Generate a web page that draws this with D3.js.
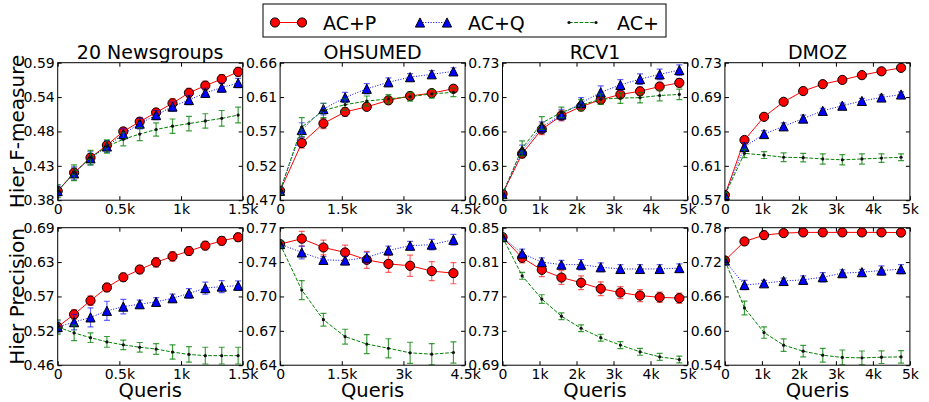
<!DOCTYPE html>
<html>
<head>
<meta charset="utf-8">
<script src="https://cdn.jsdelivr.net/npm/d3@7"></script>
<style>
body { margin: 0; background: #fff; }
svg { font-family: "DejaVu Sans", sans-serif; }
</style>
</head>
<body>
<svg id="chart" width="929" height="402"></svg>
<script>
// ---- data ----
var datasetNames = ["20 Newsgroups", "OHSUMED", "RCV1", "DMOZ"];
var seriesNames = ["AC+P", "AC+Q", "AC+"];
var rowLabels = ["Hier F-measure", "Hier Precision"];

var queries20ng = [0, 133, 266, 399, 532, 665, 798, 931, 1064, 1197, 1330, 1463];
var queriesOhsumed = [0, 527, 1054, 1581, 2108, 2635, 3162, 3689, 4216];
var queriesRcv1 = [0, 531, 1062, 1593, 2124, 2655, 3186, 3717, 4248, 4779];
var queriesDmoz = [0, 529, 1058, 1587, 2116, 2645, 3174, 3703, 4232, 4761];

var xTicks20ng = [0, 500, 1000, 1500];
var xLabels20ng = ["0", "0.5k", "1k", "1.5k"];
var xTicksOhsumed = [0, 1500, 3000, 4500];
var xLabelsOhsumed = ["0", "1.5k", "3k", "4.5k"];
var xTicks5k = [0, 1000, 2000, 3000, 4000, 5000];
var xLabels5k = ["0", "1k", "2k", "3k", "4k", "5k"];

var fTickLabels = [
	["0.38", "0.43", "0.48", "0.54", "0.59"],
	["0.47", "0.52", "0.57", "0.61", "0.66"],
	["0.60", "0.63", "0.66", "0.70", "0.73"],
	["0.57", "0.61", "0.65", "0.69", "0.73"]
];
var pTickLabels = [
	["0.46", "0.52", "0.57", "0.63", "0.69"],
	["0.64", "0.67", "0.70", "0.74", "0.77"],
	["0.69", "0.73", "0.77", "0.81", "0.85"],
	["0.54", "0.60", "0.66", "0.72", "0.78"]
];

// [AC+P, AC+Q, AC+]
var fmeasure20ng = [
	[0.394, 0.422, 0.445, 0.464, 0.485, 0.500, 0.514, 0.528, 0.544, 0.555, 0.565, 0.576],
	[0.394, 0.421, 0.444, 0.462, 0.481, 0.497, 0.510, 0.523, 0.533, 0.544, 0.552, 0.559],
	[0.394, 0.422, 0.445, 0.462, 0.473, 0.481, 0.488, 0.493, 0.497, 0.501, 0.505, 0.510]
];
var fmeasureErr20ng = [
	[0.006, 0.007, 0.006, 0.006, 0.006, 0.006, 0.006, 0.007, 0.007, 0.007, 0.007, 0.007],
	[0.008, 0.010, 0.010, 0.009, 0.008, 0.008, 0.007, 0.007, 0.007, 0.007, 0.007, 0.007],
	[0.010, 0.012, 0.011, 0.010, 0.010, 0.010, 0.010, 0.011, 0.011, 0.011, 0.012, 0.012]
];
var fmeasureOhsumed = [
	[0.483, 0.549, 0.576, 0.592, 0.599, 0.608, 0.614, 0.618, 0.624],
	[0.483, 0.567, 0.596, 0.612, 0.624, 0.633, 0.640, 0.644, 0.648],
	[0.483, 0.571, 0.594, 0.602, 0.607, 0.610, 0.613, 0.617, 0.619]
];
var fmeasureErrOhsumed = [
	[0.005, 0.007, 0.007, 0.006, 0.005, 0.005, 0.005, 0.005, 0.005],
	[0.005, 0.010, 0.008, 0.007, 0.007, 0.006, 0.005, 0.005, 0.005],
	[0.005, 0.013, 0.010, 0.008, 0.007, 0.006, 0.006, 0.006, 0.006]
];
var fmeasureRcv1 = [
	[0.606, 0.644, 0.667, 0.680, 0.6885, 0.695, 0.700, 0.703, 0.7075, 0.711],
	[0.606, 0.647, 0.669, 0.681, 0.692, 0.702, 0.709, 0.7145, 0.719, 0.723],
	[0.606, 0.649, 0.673, 0.683, 0.690, 0.6955, 0.6965, 0.697, 0.699, 0.700]
];
var fmeasureErrRcv1 = [
	[0.004, 0.004, 0.005, 0.005, 0.004, 0.004, 0.004, 0.004, 0.004, 0.004],
	[0.004, 0.005, 0.005, 0.005, 0.005, 0.006, 0.005, 0.005, 0.005, 0.005],
	[0.004, 0.007, 0.006, 0.005, 0.005, 0.005, 0.005, 0.005, 0.005, 0.005]
];
var fmeasureDmoz = [
	[0.576, 0.640, 0.667, 0.6845, 0.697, 0.705, 0.710, 0.7155, 0.720, 0.724],
	[0.576, 0.632, 0.647, 0.656, 0.665, 0.674, 0.680, 0.6855, 0.6895, 0.693],
	[0.576, 0.6245, 0.6225, 0.620, 0.6195, 0.618, 0.617, 0.618, 0.619, 0.620]
];
var fmeasureErrDmoz = [
	[0.003, 0.004, 0.004, 0.003, 0.002, 0.002, 0.002, 0.002, 0.002, 0.002],
	[0.003, 0.005, 0.004, 0.004, 0.004, 0.003, 0.003, 0.003, 0.003, 0.003],
	[0.003, 0.005, 0.004, 0.005, 0.005, 0.006, 0.006, 0.006, 0.005, 0.004]
];

var precision20ng = [
	[0.524, 0.545, 0.568, 0.590, 0.607, 0.620, 0.632, 0.642, 0.651, 0.660, 0.668, 0.674],
	[0.524, 0.532, 0.540, 0.551, 0.558, 0.562, 0.566, 0.572, 0.580, 0.589, 0.5915, 0.593],
	[0.524, 0.514, 0.506, 0.499, 0.494, 0.490, 0.487, 0.482, 0.478, 0.476, 0.476, 0.476]
];
var precisionErr20ng = [
	[0.006, 0.008, 0.008, 0.007, 0.007, 0.007, 0.008, 0.008, 0.007, 0.007, 0.007, 0.007],
	[0.010, 0.013, 0.016, 0.016, 0.012, 0.007, 0.007, 0.007, 0.008, 0.010, 0.010, 0.008],
	[0.012, 0.013, 0.008, 0.009, 0.008, 0.008, 0.009, 0.012, 0.013, 0.014, 0.014, 0.014]
];
var precisionOhsumed = [
	[0.7545, 0.7596, 0.7513, 0.7466, 0.7396, 0.7358, 0.734, 0.729, 0.727],
	[0.7545, 0.7466, 0.7396, 0.739, 0.7418, 0.7485, 0.753, 0.754, 0.7586],
	[0.7545, 0.711, 0.683, 0.667, 0.660, 0.656, 0.6517, 0.6504, 0.652]
];
var precisionErrOhsumed = [
	[0.003, 0.007, 0.007, 0.007, 0.008, 0.008, 0.010, 0.009, 0.010],
	[0.003, 0.006, 0.003, 0.004, 0.005, 0.004, 0.004, 0.005, 0.005],
	[0.003, 0.009, 0.006, 0.007, 0.009, 0.009, 0.010, 0.010, 0.010]
];
var precisionRcv1 = [
	[0.839, 0.815, 0.801, 0.792, 0.786, 0.779, 0.7745, 0.771, 0.769, 0.768],
	[0.839, 0.820, 0.810, 0.807, 0.807, 0.804, 0.802, 0.802, 0.802, 0.803],
	[0.839, 0.794, 0.767, 0.747, 0.733, 0.722, 0.7134, 0.7056, 0.6997, 0.6966]
];
var precisionErrRcv1 = [
	[0.004, 0.006, 0.008, 0.008, 0.008, 0.008, 0.007, 0.007, 0.006, 0.006],
	[0.004, 0.005, 0.005, 0.005, 0.006, 0.005, 0.005, 0.005, 0.005, 0.005],
	[0.004, 0.004, 0.005, 0.004, 0.004, 0.004, 0.004, 0.004, 0.004, 0.004]
];
var precisionDmoz = [
	[0.7228, 0.756, 0.767, 0.7706, 0.7718, 0.7718, 0.7718, 0.7718, 0.7718, 0.7715],
	[0.7228, 0.680, 0.683, 0.687, 0.689, 0.6936, 0.7006, 0.7024, 0.7053, 0.7076],
	[0.7228, 0.640, 0.597, 0.575, 0.5645, 0.5575, 0.5535, 0.5528, 0.554, 0.5545]
];
var precisionErrDmoz = [
	[0.004, 0.006, 0.007, 0.005, 0.005, 0.006, 0.006, 0.005, 0.005, 0.006],
	[0.004, 0.008, 0.005, 0.005, 0.007, 0.008, 0.006, 0.005, 0.008, 0.008],
	[0.004, 0.012, 0.010, 0.011, 0.010, 0.012, 0.013, 0.012, 0.011, 0.011]
];

// ---- layout / styles ----
var panelX0 = 57.7, panelStep = 222.4, panelW = 185, panelH = 137.5;
var rowY = [62.7, 227.7];

var styles = [
	{color: "#ff0000", dash: null, marker: "circle"},
	{color: "#0000ff", dash: "1,1.65", marker: "triangle"},
	{color: "#008000", dash: "3.7,1.6", marker: "point"}
];

var triangleUp = {
	draw: function(ctx, size) {
		var s = Math.sqrt(size) / 2;
		ctx.moveTo(0, -s);
		ctx.lineTo(-s, s);
		ctx.lineTo(s, s);
		ctx.closePath();
	}
};

function drawMarker(sel, type, color) {
	if (type == "circle") {
		sel.append("circle").attr("r", 4.6)
			.attr("fill", color).attr("stroke", "#000").attr("stroke-width", 1);
	} else if (type == "triangle") {
		sel.append("path").attr("d", d3.symbol(triangleUp, 84)())
			.attr("fill", color).attr("stroke", "#000").attr("stroke-width", 1);
	} else {
		sel.append("circle").attr("r", 1.6).attr("fill", "#111");
	}
}

var svg = d3.select("#chart");
svg.append("rect").attr("width", 929).attr("height", 402).attr("fill", "#fff");

var panels = [
	{row: 0, col: 0, xs: queries20ng, vals: fmeasure20ng, errs: fmeasureErr20ng, yl: fTickLabels[0], xt: xTicks20ng, xl: xLabels20ng},
	{row: 0, col: 1, xs: queriesOhsumed, vals: fmeasureOhsumed, errs: fmeasureErrOhsumed, yl: fTickLabels[1], xt: xTicksOhsumed, xl: xLabelsOhsumed},
	{row: 0, col: 2, xs: queriesRcv1, vals: fmeasureRcv1, errs: fmeasureErrRcv1, yl: fTickLabels[2], xt: xTicks5k, xl: xLabels5k},
	{row: 0, col: 3, xs: queriesDmoz, vals: fmeasureDmoz, errs: fmeasureErrDmoz, yl: fTickLabels[3], xt: xTicks5k, xl: xLabels5k},
	{row: 1, col: 0, xs: queries20ng, vals: precision20ng, errs: precisionErr20ng, yl: pTickLabels[0], xt: xTicks20ng, xl: xLabels20ng},
	{row: 1, col: 1, xs: queriesOhsumed, vals: precisionOhsumed, errs: precisionErrOhsumed, yl: pTickLabels[1], xt: xTicksOhsumed, xl: xLabelsOhsumed},
	{row: 1, col: 2, xs: queriesRcv1, vals: precisionRcv1, errs: precisionErrRcv1, yl: pTickLabels[2], xt: xTicks5k, xl: xLabels5k},
	{row: 1, col: 3, xs: queriesDmoz, vals: precisionDmoz, errs: precisionErrDmoz, yl: pTickLabels[3], xt: xTicks5k, xl: xLabels5k}
];

panels.forEach(function(p, pi) {
	var left = panelX0 + p.col * panelStep;
	var top = rowY[p.row];
	var g = svg.append("g").attr("transform", "translate(" + left + "," + top + ")");

	var lo = +p.yl[0], hi = +p.yl[p.yl.length - 1];
	var x = d3.scaleLinear().domain([0, p.xt[p.xt.length - 1]]).range([0, panelW]);
	var y = d3.scaleLinear().domain([lo, hi]).range([panelH, 0]);
	var yTicks = p.yl.map(function(d, i) { return lo + (hi - lo) * i / (p.yl.length - 1); });

	var clipId = "clip" + pi;
	g.append("clipPath").attr("id", clipId)
		.append("rect").attr("width", panelW).attr("height", panelH);

	var plot = g.append("g").attr("clip-path", "url(#" + clipId + ")");

	p.vals.forEach(function(vals, si) {
		var st = styles[si];
		var errs = p.errs[si];
		var pts = vals.map(function(v, i) { return {x: p.xs[i], y: v, e: errs[i]}; });
		var s = plot.append("g");

		// error bars
		var eb = s.selectAll(".eb").data(pts).enter().append("g")
			.attr("stroke", st.color).attr("stroke-opacity", si == 2 ? 0.75 : 0.6)
			.attr("stroke-width", 1.2);
		eb.append("line")
			.attr("x1", function(d) { return x(d.x); }).attr("x2", function(d) { return x(d.x); })
			.attr("y1", function(d) { return y(d.y - d.e); }).attr("y2", function(d) { return y(d.y + d.e); });
		eb.append("line")
			.attr("x1", function(d) { return x(d.x) - 3; }).attr("x2", function(d) { return x(d.x) + 3; })
			.attr("y1", function(d) { return y(d.y + d.e); }).attr("y2", function(d) { return y(d.y + d.e); });
		eb.append("line")
			.attr("x1", function(d) { return x(d.x) - 3; }).attr("x2", function(d) { return x(d.x) + 3; })
			.attr("y1", function(d) { return y(d.y - d.e); }).attr("y2", function(d) { return y(d.y - d.e); });

		// line
		var line = d3.line().x(function(d) { return x(d.x); }).y(function(d) { return y(d.y); });
		s.append("path").datum(pts).attr("d", line)
			.attr("fill", "none").attr("stroke", st.color).attr("stroke-width", 1)
			.attr("stroke-dasharray", st.dash);

		// markers
		s.selectAll(".mk").data(pts).enter().append("g")
			.attr("transform", function(d) { return "translate(" + x(d.x) + "," + y(d.y) + ")"; })
			.each(function() { drawMarker(d3.select(this), st.marker, st.color); });
	});

	// axes, ticks pointing inward on all four sides
	var ax = g.append("g").attr("font-size", 14);
	ax.append("g").attr("transform", "translate(0," + panelH + ")")
		.call(d3.axisBottom(x).tickValues(p.xt).tickSizeInner(-4).tickSizeOuter(0).tickPadding(4)
			.tickFormat(function(d, i) { return p.xl[i]; }));
	ax.append("g")
		.call(d3.axisTop(x).tickValues(p.xt).tickSizeInner(-4).tickSizeOuter(0).tickFormat(""));
	ax.append("g")
		.call(d3.axisLeft(y).tickValues(yTicks).tickSizeInner(-4).tickSizeOuter(0).tickPadding(3)
			.tickFormat(function(d, i) { return p.yl[i]; }));
	ax.append("g").attr("transform", "translate(" + panelW + ",0)")
		.call(d3.axisRight(y).tickValues(yTicks).tickSizeInner(-4).tickSizeOuter(0).tickFormat(""));
	ax.selectAll(".domain").remove();
	ax.selectAll("text").attr("font-family", "DejaVu Sans").attr("font-size", 14).attr("fill", "#000");
	ax.selectAll(".tick line").attr("stroke", "#000");

	g.append("rect").attr("width", panelW).attr("height", panelH)
		.attr("fill", "none").attr("stroke", "#000").attr("stroke-width", 1);

	if (p.row == 0) {
		g.append("text").attr("x", panelW / 2).attr("y", -3.5)
			.attr("text-anchor", "middle").attr("font-size", 19)
			.text(datasetNames[p.col]);
	} else {
		g.append("text").attr("x", panelW / 2).attr("y", panelH + 32)
			.attr("text-anchor", "middle").attr("font-size", 19.5)
			.text("Queris");
	}
});

// row labels
rowLabels.forEach(function(lbl, r) {
	svg.append("text")
		.attr("transform", "translate(23.5," + (rowY[r] + panelH / 2) + ") rotate(-90)")
		.attr("text-anchor", "middle").attr("font-size", 20)
		.text(lbl);
});

// legend
var legend = svg.append("g");
legend.append("rect").attr("x", 263).attr("y", 4).attr("width", 403).attr("height", 33)
	.attr("fill", "#fff").attr("stroke", "#000").attr("stroke-width", 1);
var legendX = [275, 420, 569];
seriesNames.forEach(function(name, si) {
	var st = styles[si];
	var lx = legendX[si];
	var item = legend.append("g").attr("transform", "translate(" + lx + ",22.5)");
	item.append("line").attr("x1", 0).attr("x2", 27).attr("y1", 0).attr("y2", 0)
		.attr("stroke", st.color).attr("stroke-width", 1).attr("stroke-dasharray", st.dash);
	drawMarker(item.append("g"), st.marker, st.color);
	drawMarker(item.append("g").attr("transform", "translate(27,0)"), st.marker, st.color);
	item.append("text").attr("x", 48).attr("y", 7).attr("font-size", 19).text(name);
});
</script>
</body>
</html>
